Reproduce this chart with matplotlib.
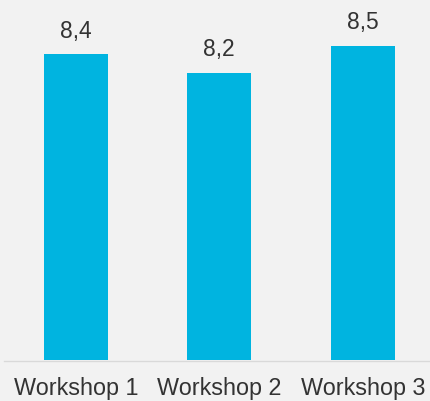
import matplotlib
matplotlib.use("Agg")
import matplotlib.pyplot as plt

categories = ["Workshop 1", "Workshop 2", "Workshop 3"]
scores = [8.4, 8.2, 8.5]
score_labels = ["8,4", "8,2", "8,5"]

BG = "#f2f2f2"
BAR = "#00b4e0"
TEXT = "#333333"

plt.rcParams["font.family"] = ["Liberation Sans", "DejaVu Sans"]

W, H, DPI = 430, 401, 100
fig = plt.figure(figsize=(W / DPI, H / DPI), dpi=DPI, facecolor=BG)
ax = fig.add_axes([4 / W, 40.5 / H, 1 - 4 / W, 1 - 40.5 / H], facecolor=BG)

x = list(range(len(categories)))
ax.bar(x, [s - 5 for s in scores], bottom=5, width=0.446, color=BAR)

for xi, s, lab in zip(x, scores, score_labels):
    ax.annotate(lab, (xi, s), xytext=(0, 16.5 * 72 / DPI), textcoords="offset points",
                ha="center", va="baseline", fontsize=16.4, color=TEXT)

ax.set_xlim(-0.5, (W - 4) / 143.5 - 0.5)
ax.set_ylim(5, 5 + 360.5 / 90)

ax.set_xticks(x)
ax.set_xticklabels(categories, fontsize=16.8, color=TEXT)
ax.tick_params(axis="x", length=0, pad=12)
ax.set_yticks([])

for side in ["top", "right", "left"]:
    ax.spines[side].set_visible(False)
ax.spines["bottom"].set_color("#d9d9d9")
ax.spines["bottom"].set_linewidth(1)

fig.savefig("out.png", dpi=DPI, facecolor=BG)
